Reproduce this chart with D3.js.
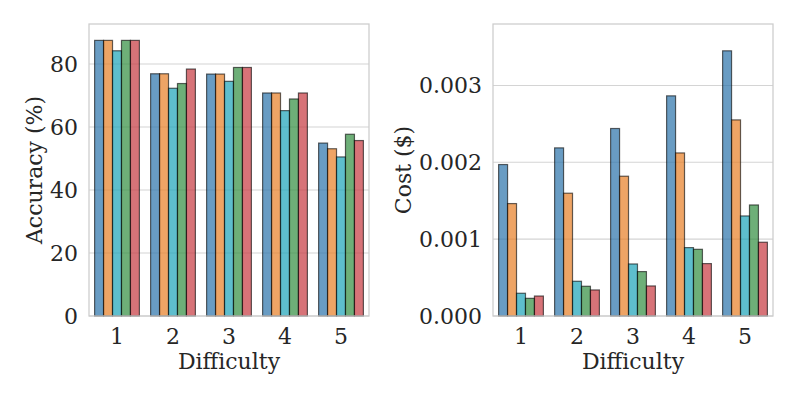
<!DOCTYPE html>
<html><head><meta charset="utf-8">
<script src="https://cdn.jsdelivr.net/npm/d3@7"></script>
<style>body{margin:0;background:#fff}svg{display:block}text{font-family:"DejaVu Serif",serif;fill:#262626}</style>
</head><body>
<svg id="c" width="797" height="399"></svg>
<script>
const difficulties = ["1","2","3","4","5"];
const seriesNames = ["s1","s2","s3","s4","s5"];
const seriesColors = ["#2a72a9","#e77e23","#1aa2b8","#308d3e","#c6373e"];
const accuracy = [
  [87.5, 76.9, 76.8, 70.8, 54.9],
  [87.5, 76.9, 76.8, 70.8, 53.1],
  [84.2, 72.3, 74.5, 65.2, 50.5],
  [87.5, 73.8, 78.9, 68.9, 57.7],
  [87.5, 78.4, 78.9, 70.8, 55.7]
];
const cost = [
  [0.001971, 0.002188, 0.002440, 0.002865, 0.003451],
  [0.001463, 0.001598, 0.001819, 0.002122, 0.002552],
  [0.000296, 0.000452, 0.000677, 0.000890, 0.001302],
  [0.000230, 0.000387, 0.000578, 0.000868, 0.001445],
  [0.000260, 0.000339, 0.000391, 0.000682, 0.000960]
];
const accTicks = [0,20,40,60,80];
const costTicks = [0,0.001,0.002,0.003];

const svg = d3.select("#c");
const FS = 22;

function panel(cfg){
  const g = svg.append("g");
  const x = d3.scaleBand().domain(difficulties).range([cfg.x0, cfg.x1]);
  const y = d3.scaleLinear().domain(cfg.yDomain).range([cfg.yb, cfg.yt]);
  const inner = d3.scaleBand().domain(seriesNames).range([0, x.bandwidth()*0.8]);
  g.selectAll(".grid").data(cfg.ticks).join("line")
    .attr("x1", cfg.x0).attr("x2", cfg.x1)
    .attr("y1", d=>y(d)).attr("y2", d=>y(d))
    .attr("stroke", "#d4d4d4").attr("stroke-width", 1.1);
  cfg.data.forEach((vals, si) => {
    g.selectAll(".b"+si).data(vals).join("rect")
      .attr("x", (d,i)=> x(difficulties[i]) + x.bandwidth()*0.1 + inner(seriesNames[si]))
      .attr("width", inner.bandwidth())
      .attr("y", d=>y(d))
      .attr("height", d=> y(0)-y(d))
      .attr("fill", seriesColors[si]).attr("fill-opacity", 0.7)
      .attr("stroke", "#000").attr("stroke-opacity", 0.6).attr("stroke-width", 1.2);
  });
  g.append("rect").attr("x", cfg.x0).attr("y", cfg.yt)
    .attr("width", cfg.x1-cfg.x0).attr("height", cfg.yb-cfg.yt)
    .attr("fill","none").attr("stroke","#cccccc").attr("stroke-width",1.25);
  const ya = d3.axisLeft(y).tickValues(cfg.ticks).tickFormat(cfg.fmt).tickSize(0).tickPadding(11);
  const yg = g.append("g").attr("transform",`translate(${cfg.x0},0)`).call(ya);
  yg.select(".domain").remove();
  yg.selectAll("text").style("font-size", FS+"px").attr("fill","#262626");
  const xa = d3.axisBottom(x).tickSize(0).tickPadding(12);
  const xg = g.append("g").attr("transform",`translate(0,${cfg.yb})`).call(xa);
  xg.select(".domain").remove();
  xg.selectAll("text").style("font-size", FS+"px").attr("fill","#262626");
  g.append("text").attr("x",(cfg.x0+cfg.x1)/2).attr("y",369)
    .attr("text-anchor","middle").style("font-size",FS+"px").text("Difficulty");
  g.append("text").attr("transform",`translate(${cfg.ylx},${(cfg.yt+cfg.yb)/2}) rotate(-90)`)
    .attr("text-anchor","middle").attr("dy","0.35em").style("font-size",FS+"px").text(cfg.ylabel);
}

panel({x0:89, x1:369, yt:24, yb:316, yDomain:[0,92.7], ticks:accTicks,
  fmt:d3.format("d"), data:accuracy, ylabel:"Accuracy (%)", ylx:34});
panel({x0:493, x1:773, yt:24, yb:316, yDomain:[0,0.0038], ticks:costTicks,
  fmt:d3.format(".3f"), data:cost, ylabel:"Cost ($)", ylx:403});
</script>
</body></html>
